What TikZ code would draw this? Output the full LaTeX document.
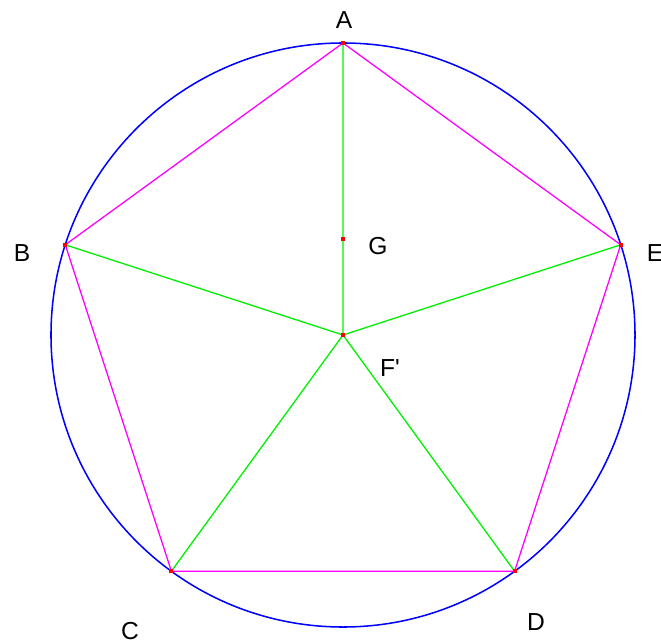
\documentclass[tikz,border=0pt]{standalone}
\usepackage{fontspec}
\setmainfont{Liberation Sans}
\definecolor{pinkline}{RGB}{255,0,255}
\definecolor{greenline}{RGB}{0,240,0}
\begin{document}
\begin{tikzpicture}[x=0.03cm, y=-0.03cm, font=\fontsize{21}{25}\selectfont, line join=round, line cap=round,
  mk/.style={fill=red, inner sep=0pt, minimum size=3.4pt}]
\useasboundingbox (0,0) rectangle (661,644);
\coordinate (F) at (343,335);
\coordinate (A) at (343,43);
\coordinate (B) at (65.3,244.8);
\coordinate (C) at (171.4,571.2);
\coordinate (D) at (514.6,571.2);
\coordinate (E) at (620.7,244.8);
\coordinate (G) at (343,239);
\draw[blue, line width=1.3pt] (F) circle[radius=8.76cm];
\draw[pinkline, line width=1.1pt] (A)--(B)--(C)--(D)--(E)--cycle;
\draw[greenline, line width=1.1pt] (F)--(A) (F)--(B) (F)--(C) (F)--(D) (F)--(E);
\foreach \p in {A,B,C,D,E,F,G} \node[mk] (m\p) at (\p) {};
\node (lA) at (344,20) {A};
\node (lB) at (22,253) {B};
\node (lC) at (130,631) {C};
\node (lD) at (536,622) {D};
\node (lE) at (655,253) {E};
\node (lG) at (378,246) {G};
\node (lF) at (390,368) {F\textquotesingle};
\end{tikzpicture}
\end{document}
